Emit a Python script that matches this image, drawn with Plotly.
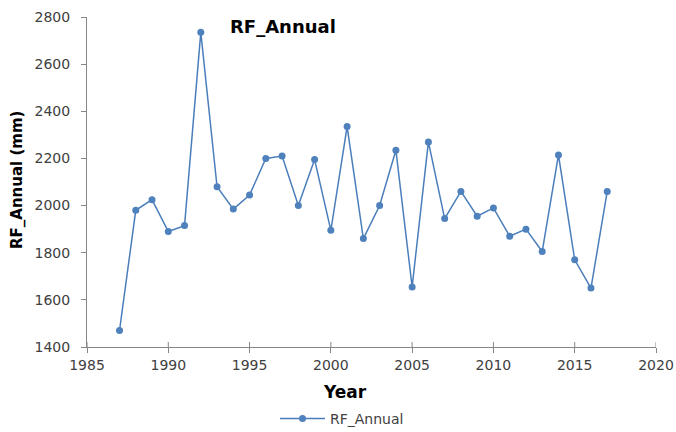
import plotly.graph_objects as go

# Annual rainfall series
years = list(range(1987, 2018))
rf_annual = [1470, 1980, 2025, 1890, 1915, 2735, 2080, 1985, 2045, 2200,
             2210, 2000, 2195, 1895, 2335, 1860, 2000, 2235, 1655, 2270,
             1945, 2060, 1955, 1990, 1870, 1900, 1805, 2215, 1770, 1650, 2060]

x_ticks = [1985, 1990, 1995, 2000, 2005, 2010, 2015, 2020]
y_ticks = [1400, 1600, 1800, 2000, 2200, 2400, 2600, 2800]

line_color = "#4A7EBB"
marker_color = "#4F81BD"
axis_color = "#868686"
font_family = "DejaVu Sans"

# plot-area edges in pixels
L, R, T, B = 87, 656, 17, 347
W, H = 676, 432
pw, ph = R - L, B - T

fig = go.Figure()
fig.add_trace(go.Scatter(
    x=years, y=rf_annual, mode="lines+markers", name="RF_Annual",
    line=dict(color=line_color, width=1.5),
    marker=dict(color=marker_color, size=7),
))

# crossing tick marks on the x axis
for xv in x_ticks:
    fig.add_shape(type="line", xref="x", yref="paper", x0=xv, x1=xv,
                  y0=0, y1=5 / ph, line=dict(color=axis_color, width=1))

fig.update_layout(
    width=W, height=H,
    margin=dict(l=L, r=W - R, t=T, b=H - B, autoexpand=False),
    paper_bgcolor="white", plot_bgcolor="white",
    font=dict(family=font_family, size=14, color="#404040"),
    showlegend=True,
    legend=dict(orientation="h", x=(342 - L) / pw, xanchor="center",
                y=-(419 - B) / ph, yanchor="middle", itemwidth=45,
                font=dict(size=14, color="#404040")),
    annotations=[dict(text="<b>RF_Annual</b>", x=(283 - L) / pw, y=(B - 27) / ph,
                      xref="paper", yref="paper", xanchor="center", yanchor="middle",
                      showarrow=False, font=dict(size=18, color="black")),
                 dict(text="<b>Year</b>", x=(345 - L) / pw, y=-(392 - B) / ph,
                      xref="paper", yref="paper", xanchor="center", yanchor="middle",
                      showarrow=False, font=dict(size=17, color="black")),
                 dict(text="<b>RF_Annual (mm)</b>", x=-(L - 17) / pw, y=(B - 180) / ph,
                      xref="paper", yref="paper", xanchor="center", yanchor="middle",
                      textangle=-90, showarrow=False, font=dict(size=15, color="black"))],
)

fig.update_xaxes(
    range=[1985, 2020], tickvals=x_ticks, showgrid=False, zeroline=False,
    showline=True, linecolor=axis_color, linewidth=1,
    ticks="outside", ticklen=5, tickcolor=axis_color,
)
fig.update_yaxes(
    range=[1400, 2800], tickvals=y_ticks, showgrid=False, zeroline=False,
    showline=True, linecolor=axis_color, linewidth=1,
    ticks="outside", ticklen=5, tickcolor=axis_color,
    ticklabelstandoff=8,
)

fig.write_html("out.html")
